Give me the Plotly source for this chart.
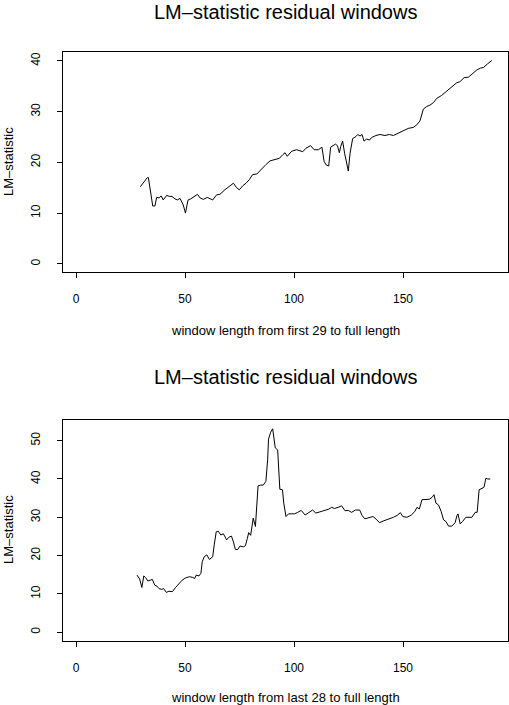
import plotly.graph_objects as go

# window length vs LM-statistic
first_x = [29.5, 31.2, 32.7, 33.2, 34.0, 35.2, 36.2, 37.0, 38.2, 39.1, 40.0, 41.6, 42.8, 44.0, 45.4, 46.5, 47.7, 49.2, 50.2, 51.4,
           52.6, 53.8, 55.7, 56.9, 58.4, 60.2, 61.5, 62.7, 64.5, 66.0, 68.3, 70.6, 72.2, 73.7, 74.9, 76.5, 78.0, 79.5, 81.0, 82.9,
           85.2, 87.2, 89.0, 91.3, 93.3, 94.8, 95.9, 96.9, 98.9, 101.2, 102.8, 104.0, 105.5, 107.6, 109.2, 111.2, 112.8, 113.8, 114.7, 115.9,
           116.8, 117.7, 119.0, 119.9, 120.8, 121.4, 122.3, 123.2, 124.2, 124.9, 125.7, 126.9, 128.4, 129.2, 130.3, 131.2, 132.1, 133.3, 134.6, 135.6,
           137.6, 139.4, 141.7, 143.7, 145.6, 147.4, 148.9, 150.2, 152.4, 154.7, 156.3, 157.8, 158.6, 159.3, 160.8, 162.4, 164.0, 165.4, 167.7, 170.0,
           172.3, 174.6, 176.1, 178.0, 180.0, 182.0, 183.8, 185.6, 186.9, 188.7, 190.7]
first_y = [15.2, 16.2, 17.0, 17.0, 14.6, 11.4, 11.4, 13.1, 13.0, 13.4, 12.6, 13.5, 13.3, 13.3, 12.8, 12.6, 12.9, 11.6, 10.0, 12.6,
           12.8, 13.1, 13.7, 13.0, 12.7, 13.1, 12.8, 12.6, 13.6, 13.7, 14.6, 15.4, 15.9, 15.0, 14.6, 15.4, 15.9, 16.6, 17.6, 17.7,
           18.8, 19.6, 20.3, 20.5, 20.8, 21.5, 21.9, 21.2, 22.2, 22.5, 22.3, 22.1, 22.8, 23.3, 22.5, 22.5, 23.0, 20.2, 19.5, 19.3,
           23.0, 23.3, 23.6, 23.3, 21.9, 23.1, 24.2, 21.8, 19.8, 18.3, 21.8, 24.7, 25.1, 25.5, 25.2, 25.5, 24.2, 24.6, 24.4, 24.9,
           25.3, 25.5, 25.3, 25.5, 25.3, 25.7, 25.9, 26.3, 26.7, 26.9, 27.4, 28.2, 29.4, 30.5, 31.0, 31.3, 31.8, 32.6, 33.2, 34.0,
           34.9, 35.7, 35.9, 36.7, 36.8, 37.6, 38.2, 38.6, 38.7, 39.4, 40.1]

last_x = [28.0, 29.2, 30.2, 31.1, 32.0, 32.9, 34.1, 35.0, 36.1, 37.2, 38.1, 39.3, 40.2, 41.4, 42.6, 44.2, 45.7, 47.2, 48.7, 50.3,
          52.1, 53.6, 54.4, 55.1, 56.4, 57.3, 57.9, 58.8, 60.0, 61.2, 62.7, 63.4, 64.3, 65.2, 66.4, 67.6, 69.1, 70.1, 71.3, 72.2,
          73.1, 74.2, 75.2, 76.8, 77.7, 78.6, 79.2, 80.1, 80.7, 81.3, 82.3, 82.9, 83.5, 84.7, 85.9, 87.1, 87.9, 88.3, 89.3, 90.2,
          90.8, 91.4, 92.5, 92.9, 93.5, 94.7, 95.3, 96.3, 97.5, 98.7, 100.2, 101.7, 103.3, 105.1, 106.6, 108.5, 110.0, 111.8, 113.8, 115.8,
          117.3, 118.5, 120.3, 121.8, 123.4, 124.9, 126.4, 128.2, 130.1, 131.3, 132.5, 134.3, 136.2, 137.7, 139.2, 141.2, 143.5, 145.6, 147.3, 148.8,
          149.9, 151.8, 153.8, 155.4, 156.4, 157.5, 158.7, 160.2, 162.0, 163.3, 164.2, 165.1, 166.3, 167.5, 168.6, 169.7, 170.9, 172.4, 173.9, 174.7,
          175.2, 176.2, 177.3, 178.8, 181.6, 183.1, 184.0, 184.9, 186.2, 187.1, 188.0, 188.9, 190.0]
last_y = [14.9, 13.9, 11.7, 14.7, 14.2, 13.4, 13.6, 13.8, 12.3, 12.0, 11.4, 11.2, 11.4, 10.4, 10.7, 10.6, 11.7, 12.7, 13.6, 14.2,
          14.5, 14.3, 14.0, 14.9, 14.7, 15.4, 18.4, 19.7, 20.2, 19.0, 19.7, 22.8, 26.2, 26.4, 25.4, 25.7, 24.1, 24.8, 25.1, 23.6,
          21.6, 21.6, 22.5, 22.3, 22.6, 24.5, 26.0, 25.3, 27.7, 29.8, 27.6, 34.6, 38.2, 38.4, 38.4, 39.4, 45.0, 50.4, 52.2, 53.1,
          50.3, 48.1, 47.6, 42.0, 37.3, 37.2, 33.7, 30.2, 30.9, 30.9, 30.9, 31.3, 31.8, 30.6, 31.2, 31.9, 31.1, 31.4, 31.8, 32.1,
          32.6, 32.3, 32.6, 33.0, 31.7, 31.8, 31.3, 31.9, 31.9, 30.4, 29.6, 29.8, 30.2, 29.5, 28.6, 29.1, 29.5, 30.0, 30.5, 31.2,
          30.2, 30.0, 30.6, 31.5, 32.6, 32.2, 34.6, 34.7, 34.7, 35.2, 35.9, 33.7, 33.2, 31.5, 29.3, 28.9, 27.7, 27.7, 28.6, 30.4,
          30.9, 28.3, 28.9, 30.0, 30.0, 31.3, 31.3, 37.2, 37.6, 37.8, 40.2, 40.0, 40.0]

xticks = [0, 50, 100, 150]
font = "Liberation Sans, Arial, Helvetica, sans-serif"

fig = go.Figure()
fig.add_trace(go.Scatter(x=first_x, y=first_y, mode="lines",
                         line=dict(color="black", width=1), xaxis="x", yaxis="y"))
fig.add_trace(go.Scatter(x=last_x, y=last_y, mode="lines",
                         line=dict(color="black", width=1), xaxis="x2", yaxis="y2"))

ax = dict(showgrid=False, zeroline=False, showline=True, linecolor="black", linewidth=1,
          mirror=True, ticks="outside", ticklen=5, tickcolor="black", tickwidth=1,
          automargin=False, tickfont=dict(family=font, size=12, color="black"))

fig.update_layout(
    width=509, height=705,
    margin=dict(l=0, r=0, t=0, b=0),
    plot_bgcolor="white", paper_bgcolor="white",
    showlegend=False,
    xaxis=dict(ax, domain=[0.1232, 0.9974], range=[-6.1, 198], tickvals=xticks,
               anchor="y", ticklabelstandoff=11),
    yaxis=dict(ax, domain=[0.6146, 0.9258], range=[-1.55, 41.7], tickvals=[0, 10, 20, 30, 40],
               anchor="x", tickangle=-90, ticklabelstandoff=12),
    xaxis2=dict(ax, domain=[0.1232, 0.9974], range=[-6.1, 198], tickvals=xticks,
                anchor="y2", ticklabelstandoff=11),
    yaxis2=dict(ax, domain=[0.0912, 0.4043], range=[-2.2, 55.4], tickvals=[0, 10, 20, 30, 40, 50],
                anchor="x2", tickangle=-90, ticklabelstandoff=12),
)

def label(text, x, y, size, angle=0):
    fig.add_annotation(text=text, x=x / 509, y=1 - y / 705, xref="paper", yref="paper",
                       xanchor="center", yanchor="middle",
                       showarrow=False, textangle=angle,
                       font=dict(family=font, size=size, color="black"))

label("LM\u2013statistic residual windows", 285, 12, 20)
label("window length from first 29 to full length", 285, 330, 13)
label("LM\u2013statistic", 8, 162, 13, -90)
label("LM\u2013statistic residual windows", 285, 377, 20)
label("window length from last 28 to full length", 285, 697, 13)
label("LM\u2013statistic", 8, 530, 13, -90)

# drop the default 8px page margin so the figure sits at the window corner
fig.write_html("out.html", config={"displayModeBar": False},
               post_script="document.body.style.margin='0';")
